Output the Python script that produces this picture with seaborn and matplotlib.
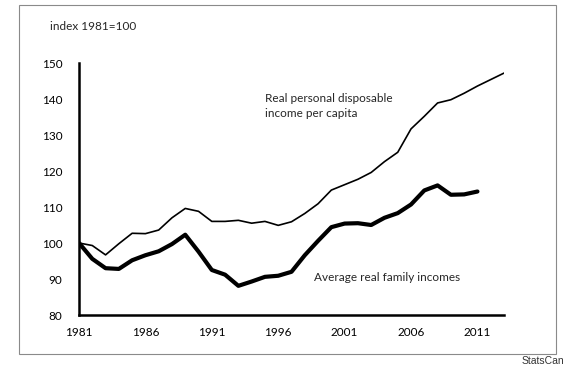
import matplotlib
matplotlib.use('Agg')

import pandas as pd
import matplotlib.pyplot as plt
import seaborn as sns
from matplotlib.patches import Rectangle

sns.set_style('white')
plt.rcParams['font.family'] = ['Lato', 'DejaVu Sans']

# ---- data (index 1981=100) ----
disp_years = list(range(1981, 2014))
disp_income = [100, 99.3, 96.7, 99.8, 102.7, 102.6, 103.6, 107.0, 109.6, 108.8,
               106.0, 106.0, 106.3, 105.5, 106.0, 104.9, 105.9, 108.2, 110.9, 114.7,
               116.2, 117.7, 119.6, 122.6, 125.2, 131.7, 135.2, 138.9, 139.8, 141.6,
               143.6, 145.4, 147.2]

family_years = list(range(1981, 2012))
family_income = [100, 95.6, 93.0, 92.8, 95.2, 96.6, 97.7, 99.7, 102.3, 97.6,
                 92.5, 91.2, 88.1, 89.3, 90.6, 90.9, 92.0, 96.6, 100.6, 104.4,
                 105.4, 105.5, 105.0, 107.0, 108.3, 110.7, 114.6, 116.0, 113.4, 113.5,
                 114.3]

major_years = [1981, 1986, 1991, 1996, 2001, 2006, 2011]
y_ticks = [80, 90, 100, 110, 120, 130, 140, 150]

df_disp = pd.DataFrame({'year': disp_years, 'index': disp_income})
df_fam = pd.DataFrame({'year': family_years, 'index': family_income})

fig = plt.figure(figsize=(5.7, 3.67), dpi=100)
ax = fig.add_axes([79 / 570, 52 / 367, 425 / 570, 252 / 367])

sns.lineplot(data=df_disp, x='year', y='index', ax=ax, color='black', linewidth=1.2)
sns.lineplot(data=df_fam, x='year', y='index', ax=ax, color='black', linewidth=3.0)

ax.set_xlim(1981, 2013)
ax.set_ylim(80, 150)
ax.set_xticks(major_years)
ax.set_xticks(disp_years, minor=True)
ax.set_yticks(y_ticks)
ax.set_xlabel('')
ax.set_ylabel('')

for side in ['top', 'right']:
    ax.spines[side].set_visible(False)
for side in ['left', 'bottom']:
    ax.spines[side].set_color('black')
    ax.spines[side].set_linewidth(1.8)

ax.tick_params(axis='both', which='both', direction='in', colors='black',
               labelsize=8.5, width=1.8, length=4)
ax.tick_params(axis='x', which='major', pad=9)
ax.tick_params(axis='y', which='major', pad=12)

ax.text(1995.0, 138.0, 'Real personal disposable\nincome per capita',
        fontsize=8.5, va='center', ha='left', linespacing=1.5)
ax.text(1998.7, 90.4, 'Average real family incomes', fontsize=8.5,
        va='center', ha='left')

fig.text(50 / 570, 1 - 27 / 367, 'index 1981=100', fontsize=8.5, va='center', ha='left')
fig.text(564 / 570, 1 - 361 / 367, 'StatsCan', fontsize=7.5, va='center', ha='right',
         family=['Liberation Sans', 'DejaVu Sans'], color='#333333')

fig.patches.append(Rectangle((19 / 570, 1 - 354 / 367), 537 / 570, 349 / 367,
                             transform=fig.transFigure, fill=False,
                             edgecolor='#8a8a8a', linewidth=0.8))

plt.savefig('out.png', dpi=100)
plt.close()
